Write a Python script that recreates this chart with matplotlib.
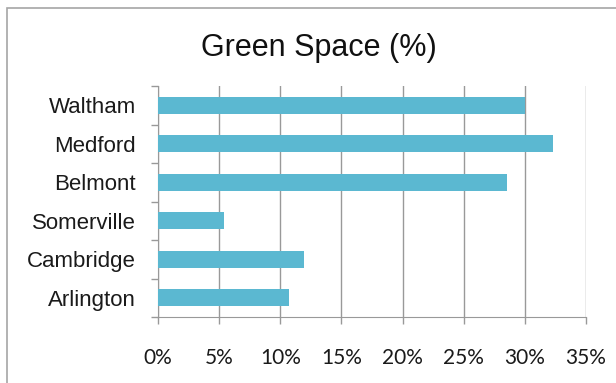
import matplotlib
matplotlib.use("Agg")
import matplotlib.pyplot as plt
from matplotlib.patches import Rectangle
from matplotlib.ticker import FuncFormatter, FixedLocator

categories = ["Arlington", "Cambridge", "Somerville", "Belmont", "Medford", "Waltham"]
values = [10.7, 11.9, 5.4, 28.5, 32.3, 30.0]
xticks = [0, 5, 10, 15, 20, 25, 30, 35]

W, H = 616, 383
fig = plt.figure(figsize=(W / 100, H / 100), dpi=100)
fig.patch.set_facecolor("white")

# outer chart border (extends beyond the image on right and bottom)
fig.patches.append(Rectangle((7 / W, -0.1), 1.2, 1 - 8 / H + 0.1, transform=fig.transFigure,
                             fill=False, edgecolor="#a6a6a6", linewidth=1.2))

x0, x1 = 158, 586
ytop, ybot = 86, 317
ax = fig.add_axes([x0 / W, 1 - ybot / H, (x1 - x0) / W, (ybot - ytop) / H])

ypos = list(range(len(categories)))
ax.barh(ypos, values, height=0.45, color="#5bb8d1", zorder=3)

ax.set_xlim(0, 35)
ax.set_ylim(-0.5, len(categories) - 0.5)
ax.xaxis.set_major_locator(FixedLocator(xticks))
ax.xaxis.set_major_formatter(FuncFormatter(lambda v, p: f"{int(v)}%"))
ax.set_yticks(ypos)
ax.set_yticklabels(categories, family="Liberation Sans", fontsize=16, color="#1a1a1a")
ax.yaxis.set_minor_locator(FixedLocator([i - 0.5 for i in range(len(categories) + 1)]))
ax.tick_params(axis="y", which="major", length=0, pad=16)
ax.tick_params(axis="y", which="minor", length=5, color="#999999", width=1)
ax.tick_params(axis="x", length=5, color="#999999", width=1, pad=17, labelsize=15, labelcolor="#1a1a1a")
for lab in ax.get_xticklabels():
    lab.set_family("Lato")

ax.grid(axis="x", color="#999999", linewidth=1, zorder=0)
for s in ["top", "right"]:
    ax.spines[s].set_visible(False)
ax.spines["left"].set_color("#999999")
ax.spines["bottom"].set_color("#999999")

fig.text(319 / W, 1 - 48 / H, "Green Space (%)", ha="center", va="center",
         family="Liberation Sans", fontsize=22, color="#111111")

fig.savefig("out.png", dpi=100)
